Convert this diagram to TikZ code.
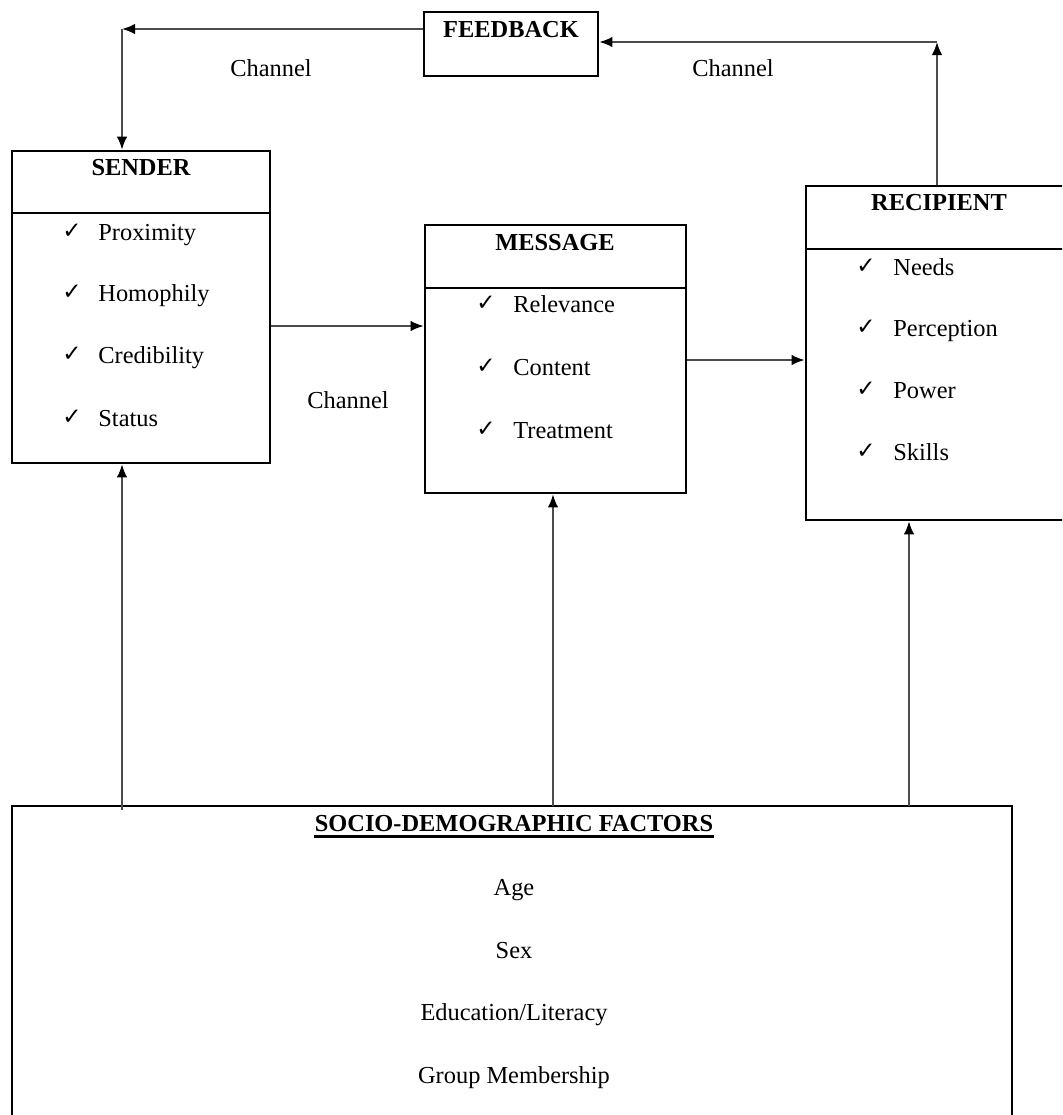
\documentclass[tikz,border=0pt]{standalone}
\usepackage{fontspec}
\setmainfont{Liberation Serif}
\newfontfamily\chkfont{DejaVu Sans}
\usetikzlibrary{arrows.meta,fit}
\newcommand\txtsz{\fontsize{12.2}{14}\selectfont}
\begin{document}
\begin{tikzpicture}[x=0.5pt,y=-0.5pt,
  box/.style={draw=black, line width=1.3pt, inner sep=0pt},
  divline/.style={draw=black, line width=1pt},
  arr/.style={draw=black!70, line width=0.9pt, -{Latex[length=6.5pt,width=5.2pt,color=black]}},
  ttl/.style={font=\txtsz\bfseries, inner sep=0pt, anchor=base},
  itm/.style={font=\txtsz, inner sep=0pt, anchor=base west},
  chk/.style={font=\chkfont\fontsize{11.5}{12}\selectfont, inner sep=0pt, anchor=base west},
  ctr/.style={font=\txtsz, inner sep=0pt, anchor=base}]
\clip (0,0) rectangle (1062,1115);
\fill[white] (0,0) rectangle (1062,1115);

% boxes
\node[box, fit={(424,12) (598,76)}] (feedback) {};
\node[ttl] (fbt) at (511,37) {FEEDBACK};

\node[box, fit={(12,151) (270,463)}] (sender) {};
\node[ttl] (st) at (141,175) {SENDER};
\draw[divline] (sender.west |- 0,213) coordinate (sd1) -- (sender.east |- sd1);
\node[chk] (sc1) at (62,238) {✓}; \node[itm] (s1) at (98,240) {Proximity};
\node[chk] (sc2) at (62,299) {✓}; \node[itm] (s2) at (98,301) {Homophily};
\node[chk] (sc3) at (62,361) {✓}; \node[itm] (s3) at (98,363) {Credibility};
\node[chk] (sc4) at (62,424) {✓}; \node[itm] (s4) at (98,426) {Status};

\node[box, fit={(425,225) (686,493)}] (message) {};
\node[ttl] (mt) at (555,250) {MESSAGE};
\draw[divline] (message.west |- 0,288) coordinate (md1) -- (message.east |- md1);
\node[chk] (mc1) at (476,310) {✓}; \node[itm] (m1) at (513,312) {Relevance};
\node[chk] (mc2) at (476,373) {✓}; \node[itm] (m2) at (513,375) {Content};
\node[chk] (mc3) at (476,436) {✓}; \node[itm] (m3) at (513,438) {Treatment};

\node[box, fit={(806,186) (1080,520)}] (recipient) {};
\node[ttl] (rt) at (939,210) {RECIPIENT};
\draw[divline] (recipient.west |- 0,249) coordinate (rd1) -- (recipient.east |- rd1);
\node[chk] (rc1) at (856,273) {✓}; \node[itm] (r1) at (893,275) {Needs};
\node[chk] (rc2) at (856,334) {✓}; \node[itm] (r2) at (893,336) {Perception};
\node[chk] (rc3) at (856,396) {✓}; \node[itm] (r3) at (893,398) {Power};
\node[chk] (rc4) at (856,458) {✓}; \node[itm] (r4) at (893,460) {Skills};

\node[box, fit={(12,806) (1012,1140)}] (socio) {};
\node[ttl] (sdt) at (514,831) {SOCIO-DEMOGRAPHIC FACTORS};
\draw[black, line width=1.5pt] ([yshift=-2.6pt]sdt.base west) -- ([yshift=-2.6pt]sdt.base east);
\node[ctr] (f1) at (514,895) {Age};
\node[ctr] (f2) at (514,958) {Sex};
\node[ctr] (f3) at (514,1020) {Education/Literacy};
\node[ctr] (f4) at (514,1083) {Group Membership};

% channel labels
\node[ctr] (ch1) at (271,76) {Channel};
\node[ctr] (ch2) at (733,76) {Channel};
\node[ctr] (ch3) at (348,408) {Channel};

% feedback loop
\coordinate (cl) at (122,29);
\coordinate (cr) at (937,42);
\draw[arr] (feedback.west |- cl) -- (cl);
\draw[arr] (cl) -- (cl |- sender.north);
\draw[arr] (cr |- recipient.north) -- (cr);
\draw[arr] (cr) -- (feedback.east |- cr);

% main flow
\coordinate (a1) at (0,326);
\coordinate (a2) at (0,360);
\draw[arr] (sender.east |- a1) -- (message.west |- a1);
\draw[arr] (message.east |- a2) -- (recipient.west |- a2);

% from socio-demographic factors
\coordinate (b1) at (122,810);
\coordinate (b2) at (553,806);
\coordinate (b3) at (909,806);
\draw[arr] (b1) -- (b1 |- sender.south);
\draw[arr] (b2) -- (b2 |- message.south);
\draw[arr] (b3) -- (b3 |- recipient.south);
\end{tikzpicture}
\end{document}
